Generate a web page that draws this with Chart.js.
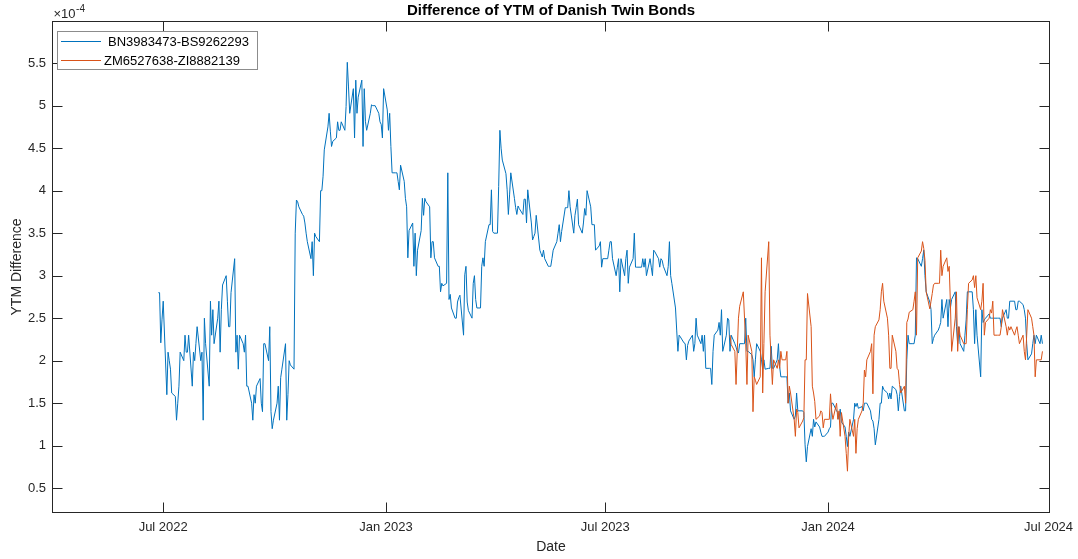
<!DOCTYPE html>
<html>
<head>
<meta charset="utf-8">
<script src="https://cdn.jsdelivr.net/npm/chart.js@4.4.1/dist/chart.umd.min.js"></script>
<style>
  html, body { margin: 0; padding: 0; background: #fff; }
  #wrap { width: 1078px; height: 559px; }
</style>
</head>
<body>
<div id="wrap"><canvas id="myChart" width="1078" height="559"></canvas></div>
<script>
const seriesNames = ['BN3983473-BS9262293', 'ZM6527638-ZI8882139'];
const seriesColors = ['#0072BD', '#D95319'];

// first trading day of each series
const blueStart = '2022-06-27';
const orangeStart = '2023-10-12';

// YTM difference in units of 1e-4, one value per trading day
const blueValues = [
  2.80, 2.80, 2.21, 2.48, 2.70, 1.60, 2.10, 2.00, 1.90, 1.62,
  1.58, 1.30, 1.50, 1.70, 2.10, 2.00, 2.30, 2.10, 2.10, 2.30,
  1.70, 2.10, 2.00, 2.20, 2.40, 2.00, 2.10, 1.30, 2.50, 2.20,
  1.70, 2.70, 2.30, 2.60, 2.20, 2.50, 2.70, 2.10, 2.60, 2.89,
  3.00, 2.70, 2.40, 2.40, 2.80, 3.20, 2.10, 2.30, 1.90, 2.30,
  2.20, 2.10, 2.30, 1.70, 1.70, 1.50, 1.30, 1.60, 1.50, 1.70,
  1.79, 1.50, 1.40, 2.20, 2.20, 2.00, 2.40, 1.40, 1.20, 1.30,
  1.50, 1.70, 1.30, 1.80, 1.90, 2.20, 1.30, 1.60, 2.00, 1.95,
  1.90, 3.50, 3.89, 3.87, 3.81, 3.72, 3.70, 3.62, 3.50, 3.40,
  3.20, 3.40, 3.00, 3.50, 3.46, 3.40,
  4.00, 4.00, 4.17, 4.48, 4.75, 4.91, 4.70, 4.52, 4.58, 4.62,
  4.81, 4.71, 4.71, 4.81, 4.71, 4.99, 5.51, 5.22, 4.91, 5.20,
  4.62, 5.30, 4.91, 5.10, 5.30, 4.52, 5.20, 4.81, 4.71, 4.91,
  5.01, 5.00, 5.00, 5.00, 4.91, 4.81, 4.78, 4.62, 5.20, 4.95,
  4.71, 4.91, 4.52, 4.21, 4.21, 4.21, 4.11, 4.01, 4.30, 4.11,
  3.91, 3.81, 3.21, 3.53, 3.62, 3.11, 3.50, 3.00, 3.30, 3.53,
  3.91, 3.71, 3.91, 3.87, 3.81, 3.21, 3.40, 3.40, 3.21, 3.11,
  3.11, 2.81, 2.91, 2.88, 2.91, 4.21,
  2.72, 2.78, 2.62, 2.50, 2.50, 2.69, 2.74, 2.77, 2.30, 3.01,
  3.11, 2.69, 2.59, 2.50, 2.91, 3.00, 2.72, 2.62, 2.62, 3.11,
  3.21, 3.11, 3.40, 3.60, 3.60, 4.01, 3.52, 3.50, 3.50, 4.05,
  4.71,
  4.50, 4.36, 4.20, 4.01, 3.72, 3.95, 4.21, 3.91, 3.80, 3.72,
  3.82, 3.79, 3.72, 3.90, 3.90, 3.62, 4.01, 3.62, 3.42, 3.46,
  3.50, 3.71, 3.30, 3.26, 3.22, 3.30, 3.20, 3.11, 3.11, 3.11,
  3.20, 3.30, 3.40, 3.50, 3.60, 3.40, 3.52, 3.80, 3.80, 3.80,
  4.00, 3.81, 3.50, 3.71, 3.80, 3.90, 3.60, 3.50, 3.62, 3.79,
  3.71, 4.00, 3.81, 3.60, 3.60, 3.60, 3.30, 3.35, 3.40, 3.10,
  3.20, 3.20, 3.20, 3.30, 3.40, 3.40, 3.20, 3.00, 3.10, 3.20,
  2.81, 3.20, 3.00, 3.20, 3.30, 2.91, 3.10, 3.20, 3.50, 3.10,
  3.10, 3.10, 3.10, 3.20, 3.10, 3.20, 3.00, 3.20, 3.10, 3.00,
  3.30, 3.28, 3.20, 3.10,
  3.20, 3.18, 3.11, 3.00, 3.11, 3.40,
  3.00, 2.91, 2.62, 2.36, 2.11, 2.30, 2.28, 2.21, 2.20, 2.01,
  2.18, 2.23, 2.30, 2.11, 2.20, 2.50, 2.30, 2.20, 2.30, 2.11,
  2.30, 1.91, 1.91, 1.91, 1.72,
  2.11, 2.30, 2.36, 2.45, 2.30, 2.60, 2.11, 2.30, 2.50, 2.48,
  2.11, 2.30, 2.20, 2.16, 2.11, 2.09, 2.20, 2.20, 2.20, 2.50,
  2.11, 2.11, 2.07, 2.01, 1.81, 2.01, 2.20, 2.11, 2.01, 1.90,
  2.01, 1.90, 1.91, 1.91, 2.17, 1.91, 1.91, 2.01, 2.20, 1.93,
  1.81, 1.81, 1.81, 1.81, 1.50, 1.62, 1.41, 1.31, 1.35, 1.62,
  1.41, 1.41, 1.41, 1.39, 1.01, 0.81,
  0.99, 1.20, 1.11, 1.31, 1.22, 1.28, 1.22, 1.16, 1.11, 1.11,
  1.11, 1.16, 1.20, 1.22, 1.50, 1.50, 1.41, 1.39, 1.31, 1.43,
  1.28, 1.22, 1.11, 0.99, 1.16, 1.11, 1.31, 1.50, 1.46, 1.50,
  1.44,
  1.46, 1.41, 1.50, 1.50, 1.50, 1.41, 1.31, 1.29, 1.20, 1.01,
  1.31, 1.50, 1.50, 1.70, 1.66, 1.62, 1.55, 1.62, 1.55, 1.70,
  1.66, 1.60, 1.41, 1.58, 1.70, 1.41, 1.41, 2.01, 2.30, 2.20,
  2.20, 2.20, 2.30, 3.21, 3.20, 3.11, 3.20, 3.30, 3.00, 2.81,
  2.69, 2.60, 2.20, 2.26, 2.30, 2.36, 2.40, 2.45, 2.72, 2.50,
  2.72, 2.40, 2.72, 2.62, 2.72, 2.81, 2.40, 2.20, 2.40, 2.20,
  2.11, 2.30, 2.48, 2.81, 2.81, 2.81, 2.60, 2.20, 2.60, 2.30,
  1.81,
  2.60, 2.45, 2.48, 2.50, 2.55, 2.50, 2.50, 2.50, 2.50, 2.50,
  2.50, 2.50, 2.40, 2.50, 2.60, 2.50, 2.50, 2.70, 2.70, 2.70,
  2.60, 2.60, 2.70, 2.70, 2.66, 2.60, 2.50, 2.20, 2.01, 2.08,
  2.20, 2.30, 2.20, 2.30, 2.20, 2.30, 2.20
];

const orangeValues = [
  2.30, 2.19, 2.11, 1.72, 2.11, 2.50, 2.64, 2.81, 2.50, 2.20,
  1.72, 2.30, 2.11, 1.40, 1.81, 1.77, 1.72, 1.81, 3.21, 1.62,
  2.20, 2.81, 3.40, 2.30, 2.01, 1.72, 2.01, 1.91, 2.01, 1.91,
  2.11, 2.01, 2.01, 2.11, 1.50, 1.70, 1.62, 1.31, 1.11, 1.43,
  1.39, 1.21, 1.29, 1.33, 2.01, 2.01, 2.79, 2.40, 1.70, 1.62,
  1.52, 1.31, 1.35, 1.41, 1.39, 1.21, 1.31, 1.31, 1.31, 1.61,
  1.41, 1.31, 1.50, 1.31, 1.41, 1.11, 1.39, 1.11, 0.91, 0.70,
  1.11, 1.31, 1.11, 1.31, 0.91, 1.20, 1.31, 1.41, 1.50, 1.89,
  1.81, 2.01, 2.11, 2.20, 1.61, 2.30, 2.40, 2.48, 2.60, 2.81,
  2.91, 2.70, 2.50, 2.30, 1.91, 1.91, 2.30, 2.11, 1.91, 1.89,
  1.72, 1.62, 1.70, 1.50, 2.45, 2.49, 2.57, 2.60, 2.70, 2.81,
  2.30, 3.21, 3.29, 3.40, 3.32, 3.18, 2.81, 2.61, 2.70, 2.79,
  2.89, 2.91, 2.91, 2.91, 3.30, 3.00, 3.11, 3.21, 3.05, 3.11,
  2.68, 2.11, 2.50, 2.81, 2.11, 2.40, 2.30, 2.20, 2.20, 2.20,
  2.60, 2.91, 2.95, 3.00, 2.86, 3.00, 2.74, 2.60, 2.70, 2.91,
  2.30, 2.45, 2.50, 2.60, 2.56, 2.70, 2.30, 2.30, 2.30, 2.30,
  2.40, 2.60, 2.40, 2.30, 2.40, 2.36, 2.40, 2.30, 2.36, 2.40,
  2.30, 2.20, 2.30, 2.11, 2.01, 2.30, 2.60, 2.50, 2.40, 2.30,
  1.81, 2.01, 2.01, 2.01, 2.11
];

const xRange = ['2022-04-01', '2024-07-01'];
const xTickDates = ['2022-07-01', '2023-01-01', '2023-07-01', '2024-01-01', '2024-07-01'];
const xTickLabels = ['Jul 2022', 'Jan 2023', 'Jul 2023', 'Jan 2024', 'Jul 2024'];
const yRange = [0.22, 5.99];
const yTicks = [0.5, 1, 1.5, 2, 2.5, 3, 3.5, 4, 4.5, 5, 5.5];

const DAY = 86400000;
const toDay = s => Date.parse(s + 'T00:00:00Z') / DAY;

// weekdays from start, one per value
const tradingDays = (start, n) => {
  const out = [];
  let t = Date.parse(start + 'T00:00:00Z');
  while (out.length < n) {
    const wd = new Date(t).getUTCDay();
    if (wd !== 0 && wd !== 6) out.push(t / DAY);
    t += DAY;
  }
  return out;
};

const toPoints = (start, vals) => {
  const days = tradingDays(start, vals.length);
  return vals.map((v, i) => ({ x: days[i], y: v }));
};

const FONT = '"Liberation Sans", Arial, Helvetica, sans-serif';
const AXIS = '#262626';

// MATLAB-like box, inward ticks, texts and legend
const matlabAxes = {
  id: 'matlabAxes',
  afterDraw(chart) {
    const { ctx, chartArea: a, scales: { x, y } } = chart;
    const L = Math.round(a.left) - 0.5;
    const R = Math.round(a.right) + 0.5;
    const T = Math.round(a.top) - 0.5;
    const B = Math.round(a.bottom) + 0.5;
    const tl = 10;

    ctx.save();
    ctx.strokeStyle = AXIS;
    ctx.lineWidth = 1;
    ctx.strokeRect(L, T, R - L, B - T);

    ctx.beginPath();
    x.ticks.forEach(t => {
      const px = Math.round(x.getPixelForValue(t.value)) + 0.5;
      ctx.moveTo(px, B); ctx.lineTo(px, B - tl);
      ctx.moveTo(px, T); ctx.lineTo(px, T + tl);
    });
    y.ticks.forEach(t => {
      const py = Math.round(y.getPixelForValue(t.value)) + 0.5;
      ctx.moveTo(L, py); ctx.lineTo(L + tl, py);
      ctx.moveTo(R, py); ctx.lineTo(R - tl, py);
    });
    ctx.stroke();

    const cx = (L + R) / 2;

    // title
    ctx.fillStyle = '#000';
    ctx.font = 'bold 15px ' + FONT;
    ctx.textAlign = 'center';
    ctx.textBaseline = 'middle';
    ctx.fillText('Difference of YTM of Danish Twin Bonds', cx, 11);

    // axis labels
    ctx.fillStyle = AXIS;
    ctx.font = '14px ' + FONT;
    ctx.fillText('Date', cx, 547);
    ctx.save();
    ctx.translate(17, (T + B) / 2);
    ctx.rotate(-Math.PI / 2);
    ctx.fillText('YTM Difference', 0, 0);
    ctx.restore();

    // exponent
    ctx.textAlign = 'left';
    ctx.textBaseline = 'alphabetic';
    ctx.font = '13px ' + FONT;
    ctx.fillText('\u00d710', L + 1, 18);
    const w = ctx.measureText('\u00d710').width;
    ctx.font = '10px ' + FONT;
    ctx.fillText('-4', L + 1 + w + 0.5, 12);

    // legend
    const lx = 57.5, ly = 31.5, lw = 200, lh = 38;
    ctx.fillStyle = '#fff';
    ctx.fillRect(lx, ly, lw, lh);
    ctx.strokeStyle = '#8c8c8c';
    ctx.strokeRect(lx, ly, lw, lh);
    const rows = [41, 60];
    const textX = [108, 104];
    ctx.font = '13px ' + FONT;
    ctx.textBaseline = 'middle';
    seriesNames.forEach((name, i) => {
      ctx.strokeStyle = seriesColors[i];
      ctx.beginPath();
      ctx.moveTo(61, rows[i] + 0.5);
      ctx.lineTo(101, rows[i] + 0.5);
      ctx.stroke();
      ctx.fillStyle = '#000';
      ctx.fillText(name, textX[i], rows[i] + 1);
    });
    ctx.restore();
  }
};

const ctx = document.getElementById('myChart').getContext('2d');
const myChart = new Chart(ctx, {
  type: 'line',
  data: {
    datasets: [
      {
        label: seriesNames[0],
        data: toPoints(blueStart, blueValues),
        borderColor: seriesColors[0],
        borderWidth: 1,
        pointRadius: 0,
        tension: 0,
        order: 1
      },
      {
        label: seriesNames[1],
        data: toPoints(orangeStart, orangeValues),
        borderColor: seriesColors[1],
        borderWidth: 1,
        pointRadius: 0,
        tension: 0,
        order: 0
      }
    ]
  },
  options: {
    responsive: false,
    animation: false,
    events: [],
    layout: { padding: { top: 21.5, right: 29.5, left: 0, bottom: 0 } },
    plugins: { legend: { display: false }, tooltip: { enabled: false } },
    scales: {
      x: {
        type: 'linear',
        min: toDay(xRange[0]),
        max: toDay(xRange[1]),
        grid: { display: false, drawTicks: false },
        border: { display: false },
        afterBuildTicks: s => { s.ticks = xTickDates.map(d => ({ value: toDay(d) })); },
        afterFit: s => { s.height = 47; s.paddingLeft = 0; s.paddingRight = 0; },
        ticks: {
          autoSkip: false,
          maxRotation: 0,
          padding: 8,
          color: AXIS,
          font: { family: FONT, size: 13 },
          callback: (v, i) => xTickLabels[i]
        }
      },
      y: {
        type: 'linear',
        min: yRange[0],
        max: yRange[1],
        grid: { display: false, drawTicks: false },
        border: { display: false },
        afterBuildTicks: s => { s.ticks = yTicks.map(v => ({ value: v })); },
        afterFit: s => { s.width = 53; s.paddingTop = 0; s.paddingBottom = 0; },
        ticks: {
          padding: 7,
          color: AXIS,
          font: { family: FONT, size: 13 },
          callback: v => String(v)
        }
      }
    }
  },
  plugins: [matlabAxes]
});
</script>
</body>
</html>
